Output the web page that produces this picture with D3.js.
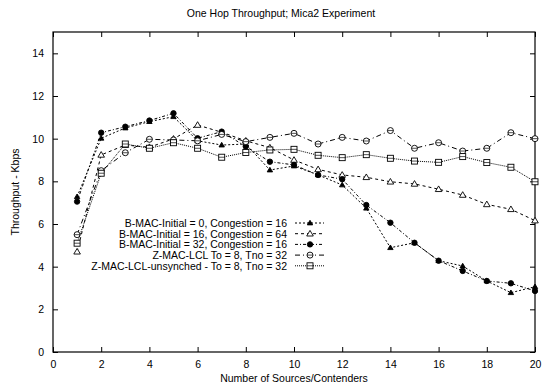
<!DOCTYPE html>
<html>
<head>
<meta charset="utf-8">
<script src="https://cdn.jsdelivr.net/npm/d3@7"></script>
<style>
  body { margin: 0; background: #fff; }
  text { font-family: "Liberation Sans", Arial, sans-serif; }
</style>
</head>
<body>
<div id="chart"></div>
<script>
// data
var sources = [1, 2, 3, 4, 5, 6, 7, 8, 9, 10, 11, 12, 13, 14, 15, 16, 17, 18, 19, 20]
var bmac0 = [7.28, 10.02, 10.5, 10.8, 11.03, 9.9, 9.7, 9.75, 8.53, 8.72, 8.3, 7.83, 6.74, 4.89, 5.12, 4.28, 4.03, 3.33, 2.78, 3.06]
var bmac16 = [4.7, 9.24, 9.7, 9.6, 9.99, 10.64, 10.3, 9.9, 9.58, 9.0, 8.56, 8.3, 8.19, 7.98, 7.88, 7.63, 7.36, 6.92, 6.69, 6.16]
var bmac32 = [7.05, 10.28, 10.56, 10.85, 11.19, 10.02, 10.33, 9.63, 8.92, 8.77, 8.3, 8.1, 6.89, 6.06, 5.12, 4.28, 3.8, 3.33, 3.22, 2.86]
var zmac = [5.5, 8.5, 9.34, 9.97, 9.94, 9.9, 10.2, 9.86, 10.06, 10.25, 9.75, 10.06, 9.89, 10.38, 9.55, 9.81, 9.42, 9.55, 10.28, 10.0]
var zmacUnsync = [5.1, 8.38, 9.75, 9.55, 9.81, 9.55, 9.13, 9.35, 9.47, 9.5, 9.22, 9.11, 9.25, 9.08, 8.95, 8.89, 9.16, 8.88, 8.66, 7.98]

var seriesNames = [
  "B-MAC-Initial = 0, Congestion = 16",
  "B-MAC-Initial = 16, Congestion = 64",
  "B-MAC-Initial = 32, Congestion = 16",
  "Z-MAC-LCL To = 8, Tno = 32",
  "Z-MAC-LCL-unsynched - To = 8, Tno = 32"
]
var xTicks = [0, 2, 4, 6, 8, 10, 12, 14, 16, 18, 20]
var yTicks = [0, 2, 4, 6, 8, 10, 12, 14]

var series = [
  {name: seriesNames[0], values: bmac0, marker: "tri", filled: true, dash: "2,2"},
  {name: seriesNames[1], values: bmac16, marker: "tri", filled: false, dash: "3,3"},
  {name: seriesNames[2], values: bmac32, marker: "circle", filled: true, dash: "3,2,1,2"},
  {name: seriesNames[3], values: zmac, marker: "circle", filled: false, dash: "5,3,1,3"},
  {name: seriesNames[4], values: zmacUnsync, marker: "square", filled: false, dash: "1,1"}
]

var W = 546, H = 386
var margin = {top: 32, right: 11, bottom: 34, left: 53}
var width = W - margin.left - margin.right
var height = H - margin.top - margin.bottom
var fs = 10.5

var svg = d3.select("#chart").append("svg")
    .attr("width", W)
    .attr("height", H)

var g = svg.append("g")
    .attr("transform", "translate(" + margin.left + "," + margin.top + ")")

var x = d3.scaleLinear().domain([0, 20]).range([0, width])
var y = d3.scaleLinear().domain([0, 15]).range([height, 0])

// axes: ticks inward, mirrored on top/right
function styleAxis(sel) {
  sel.select(".domain").remove()
  sel.selectAll(".tick line").attr("stroke", "#000")
  sel.selectAll(".tick text").attr("font-size", fs).attr("fill", "#000")
}

g.append("g")
    .attr("transform", "translate(0," + height + ")")
    .call(d3.axisBottom(x).tickValues(xTicks).tickSize(-5).tickPadding(9))
    .call(styleAxis)

g.append("g")
    .call(d3.axisLeft(y).tickValues(yTicks).tickSize(-5).tickPadding(9))
    .call(styleAxis)

g.append("g")
    .call(d3.axisTop(x).tickValues(xTicks).tickSize(-5).tickFormat(""))
    .call(styleAxis)

g.append("g")
    .attr("transform", "translate(" + width + ",0)")
    .call(d3.axisRight(y).tickValues(yTicks).tickSize(-5).tickFormat(""))
    .call(styleAxis)

g.append("rect")
    .attr("width", width)
    .attr("height", height)
    .attr("fill", "none")
    .attr("stroke", "#000")
    .attr("stroke-width", 1.2)

// titles
svg.append("text")
    .attr("x", 281)
    .attr("y", 17)
    .attr("text-anchor", "middle")
    .attr("font-size", fs)
    .text("One Hop Throughput; Mica2 Experiment")

svg.append("text")
    .attr("x", margin.left + width / 2)
    .attr("y", H - 4)
    .attr("text-anchor", "middle")
    .attr("font-size", fs)
    .text("Number of Sources/Contenders")

svg.append("text")
    .attr("transform", "translate(19," + (margin.top + height / 2) + ") rotate(-90)")
    .attr("text-anchor", "middle")
    .attr("font-size", fs)
    .text("Throughput - Kbps")

function drawMarker(sel, s) {
  if (s.marker == "tri") {
    var sz = s.filled ? 2.7 : 3.3
    sel.append("path")
        .attr("d", "M0," + (-sz) + "L" + sz + "," + (sz * 0.7) + "L" + (-sz) + "," + (sz * 0.7) + "Z")
        .attr("fill", s.filled ? "#000" : "#fff")
        .attr("stroke", "#000")
        .attr("stroke-width", 0.9)
  } else if (s.marker == "circle") {
    sel.append("circle")
        .attr("r", s.filled ? 2.7 : 3)
        .attr("fill", s.filled ? "#000" : "#fff")
        .attr("stroke", "#000")
        .attr("stroke-width", 0.9)
    if (!s.filled) {
      sel.append("line").attr("x1", -3).attr("x2", 3)
          .attr("stroke", "#000").attr("stroke-width", 0.7)
    }
  } else {
    sel.append("rect")
        .attr("x", -3).attr("y", -3)
        .attr("width", 6).attr("height", 6)
        .attr("fill", "#fff")
        .attr("stroke", "#000")
        .attr("stroke-width", 0.9)
    sel.append("line").attr("x1", -3).attr("x2", 3)
        .attr("stroke", "#000").attr("stroke-width", 0.7)
  }
}

var line = d3.line()
    .x(function(d, i) { return x(sources[i]) })
    .y(function(d) { return y(d) })

series.forEach(function(s) {
  g.append("path")
      .datum(s.values)
      .attr("d", line)
      .attr("fill", "none")
      .attr("stroke", "#000")
      .attr("stroke-width", 1)
      .attr("stroke-dasharray", s.dash)

  g.selectAll(null)
      .data(s.values)
      .enter()
      .append("g")
      .attr("transform", function(d, i) { return "translate(" + x(sources[i]) + "," + y(d) + ")" })
      .each(function() { drawMarker(d3.select(this), s) })
})

// legend
var legend = svg.append("g").attr("transform", "translate(0,223)")
series.forEach(function(s, i) {
  var row = legend.append("g").attr("transform", "translate(0," + (i * 10.7) + ")")
  row.append("text")
      .attr("x", 287)
      .attr("y", 4)
      .attr("text-anchor", "end")
      .attr("font-size", fs)
      .text(s.name)
  row.append("line")
      .attr("x1", 295).attr("x2", 324)
      .attr("stroke", "#000")
      .attr("stroke-width", 1)
      .attr("stroke-dasharray", s.dash)
  var m = row.append("g").attr("transform", "translate(310,0)")
  drawMarker(m, s)
})
</script>
</body>
</html>
